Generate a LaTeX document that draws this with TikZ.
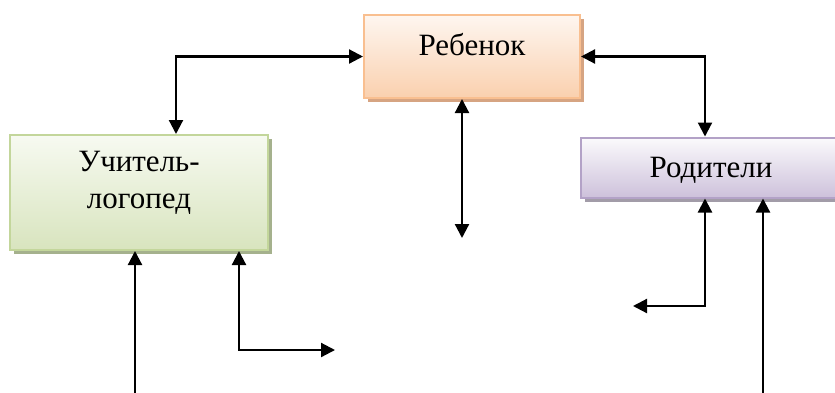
\documentclass[tikz,border=0pt]{standalone}
\usepackage{fontspec}
\setmainfont{Liberation Serif}
\usetikzlibrary{arrows.meta,shadows}

\definecolor{peachtop}{HTML}{FEF6F0}
\definecolor{peachbot}{HTML}{FAD0AE}
\definecolor{peachline}{HTML}{F9BF90}
\definecolor{peachshad}{HTML}{D6A482}
\definecolor{greentop}{HTML}{F7FAF1}
\definecolor{greenbot}{HTML}{D8E4BE}
\definecolor{greenline}{HTML}{C3D69B}
\definecolor{greenshad}{HTML}{A5B18D}
\definecolor{lilactop}{HTML}{FBFAFC}
\definecolor{lilacbot}{HTML}{CDC1DB}
\definecolor{lilacline}{HTML}{B3A2C7}
\definecolor{lilacshad}{HTML}{A29CA8}

\begin{document}
\begin{tikzpicture}[x=1pt,y=-1pt]
            \tikzstyle{box}=[rectangle,inner sep=0pt,line width=2pt,align=center,
                font=\fontsize{31}{37}\selectfont]
            \tikzstyle{conn}=[line width=2.2pt,{Triangle[length=14pt,width=14pt]}-{Triangle[length=14pt,width=14pt]}]
            \tikzstyle{conn1}=[line width=2.2pt,-{Triangle[length=14pt,width=14pt]}]

            \useasboundingbox (0,0) rectangle (835,392);
            \clip (0,0) rectangle (835,392);

            %boxes
            \node[box,draw=peachline,top color=peachtop,bottom color=peachbot,
                minimum width=216pt,minimum height=83pt,text height=22pt,text depth=25pt,
                drop shadow={shadow xshift=4pt,shadow yshift=-4pt,fill=peachshad,opacity=1}]
                (rebenok) at (472,56.5) {Ребенок};
            \node[rectangle,inner sep=0pt,line width=2pt,font=\fontsize{31}{37}\selectfont,
                draw=greenline,top color=greentop,bottom color=greenbot,
                minimum width=258pt,minimum height=115pt,
                drop shadow={shadow xshift=4pt,shadow yshift=-4pt,fill=greenshad,opacity=1}]
                (uchitel) at (139,192.5) {\parbox[c][83pt][t]{250pt}{\centering Учитель-\\логопед}};
            \node[box,draw=lilacline,top color=lilactop,bottom color=lilacbot,
                minimum width=260pt,minimum height=60pt,text height=22pt,text depth=2pt,
                drop shadow={shadow xshift=4pt,shadow yshift=-4pt,fill=lilacshad,opacity=1}]
                (roditeli) at (711,167.5) {Родители};

            %corners and free ends
            \coordinate (tl) at (176,57);
            \coordinate (tr) at (705,57);
            \coordinate (mid) at (462,238);
            \coordinate (ub1) at (135,400);
            \coordinate (uk) at (239,350);
            \coordinate (ue) at (335,350);
            \coordinate (rk) at (705,306);
            \coordinate (re) at (633,306);
            \coordinate (rb1) at (763,400);

            %top
            \draw[conn] (rebenok.west) -| (uchitel.north -| tl);
            \draw[conn] (rebenok.east) -| (roditeli.north -| tr);
            \draw[conn] (rebenok.south -| mid) -- (mid);

            %bottom
            \draw[conn1] (ub1) -- (uchitel.south -| ub1);
            \draw[conn] (uchitel.south -| uk) -- (uk) -- (ue);
            \draw[conn] (roditeli.south -| rk) -- (rk) -- (re);
            \draw[conn1] (rb1) -- (roditeli.south -| rb1);

\end{tikzpicture}
\end{document}
